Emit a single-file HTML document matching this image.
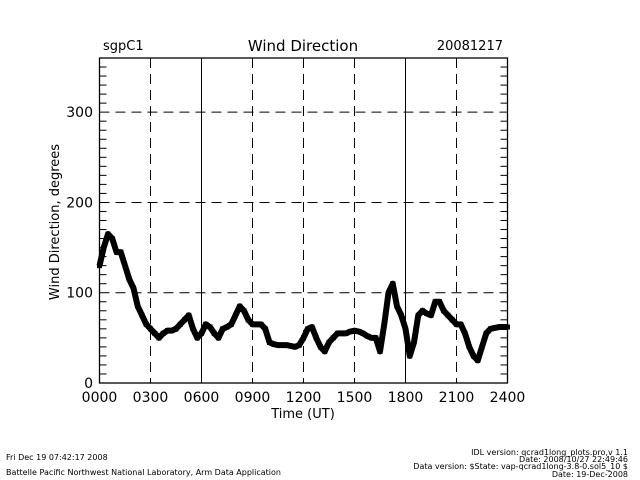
<!DOCTYPE html>
<html><head><meta charset="utf-8"><style>
body{margin:0;background:#fff;width:640px;height:480px;overflow:hidden}
svg{display:block}
text{font-family:"DejaVu Sans","Liberation Sans",sans-serif;fill:#000}
</style></head><body>
<svg id="chart" width="640" height="480">
<g id="grid"></g>
<g id="axes"></g>
<g id="pts"></g>
<text x="103" y="50" font-size="13">sgpC1</text>
<text x="303" y="51" font-size="15" text-anchor="middle">Wind Direction</text>
<text x="503" y="50" font-size="13" text-anchor="end">20081217</text>
<text x="303" y="418" font-size="13" text-anchor="middle">Time (UT)</text>
<text transform="translate(59,222) rotate(-90)" font-size="13" text-anchor="middle">Wind Direction, degrees</text>
<text x="6" y="460" font-size="8">Fri Dec 19 07:42:17 2008</text>
<text x="6" y="475" font-size="8">Battelle Pacific Northwest National Laboratory, Arm Data Application</text>
<g font-size="8" text-anchor="end">
<text x="628" y="455">IDL version: qcrad1long_plots.pro,v 1.1</text>
<text x="628" y="462">Date: 2008/10/27 22:49:46</text>
<text x="628" y="469">Data version: $State: vap-qcrad1long-3.8-0.sol5_10 $</text>
<text x="628" y="477">Date: 19-Dec-2008</text>
</g>
</svg>
<script>
const xTickLabels=["0000","0300","0600","0900","1200","1500","1800","2100","2400"];
const yTickValues=[0,100,200,300];
const stepHours=0.25;
const windDir=[130,150,165,160,145,145,130,115,105,85,75,65,60,55,50,55,58,58,60,65,70,75,60,50,55,65,62,55,50,60,62,65,75,85,80,70,65,65,65,60,45,43,42,42,42,41,40,42,50,60,62,50,40,35,45,50,55,55,55,57,58,57,55,52,50,50,35,65,100,110,85,75,60,30,45,75,80,77,75,90,90,80,75,70,65,65,55,40,30,25,40,55,60,61,62,62,62];
const L=99.5,R=507.5,T=58,B=383;
const X=h=>L+(R-L)*h/24, Y=v=>B-(B-T)*v/360;
const NS="http://www.w3.org/2000/svg";
function mk(t,a,p){const e=document.createElementNS(NS,t);for(const k in a)e.setAttribute(k,a[k]);p.appendChild(e);return e;}
const grid=document.getElementById('grid'),axes=document.getElementById('axes'),pts=document.getElementById('pts');
xTickLabels.forEach((lab,i)=>{const x=X(i*3);
 if(i>0&&i<8){const l=mk('line',{x1:x,x2:x,y1:T,y2:B,stroke:'#000','stroke-width':1,'stroke-dasharray':(i==2||i==6)?'none':'10,6'},grid);
 
 }
 const t=mk('text',{x:x,y:402,'font-size':14,'text-anchor':'middle'},axes);t.textContent=lab;
 
 });
yTickValues.forEach(v=>{const y=Y(v);
 if(v>0){const l=mk('line',{x1:L,x2:R,y1:y,y2:y,stroke:'#000','stroke-width':1,'stroke-dasharray':'10,6'},grid);
 
 }
 const t=mk('text',{x:93,y:y+5,'font-size':14,'text-anchor':'end'},axes);t.textContent=v;
 
 });
for(let v=10;v<360;v+=10){if(v%100==0)continue;const y=Y(v);
 mk('line',{x1:L,x2:L+7,y1:y,y2:y,stroke:'#000'},axes);mk('line',{x1:R-7,x2:R,y1:y,y2:y,stroke:'#000'},axes);}
const fr=mk('rect',{x:L,y:T,width:R-L,height:B-T,fill:'none',stroke:'#000','stroke-width':1.3},axes);


let d='';windDir.forEach((v,i)=>{d+=(i?'L':'M')+X(i*stepHours)+','+Y(v);});
const ln=mk('path',{d:d,fill:'none',stroke:'#000','stroke-width':6,'stroke-linejoin':'round'},pts);


windDir.forEach((v,i)=>{const r=mk('rect',{x:X(i*stepHours)-2.5,y:Y(v)-2.5,width:5,height:5,fill:'#000'},pts);
 
 });
</script>
</body></html>
